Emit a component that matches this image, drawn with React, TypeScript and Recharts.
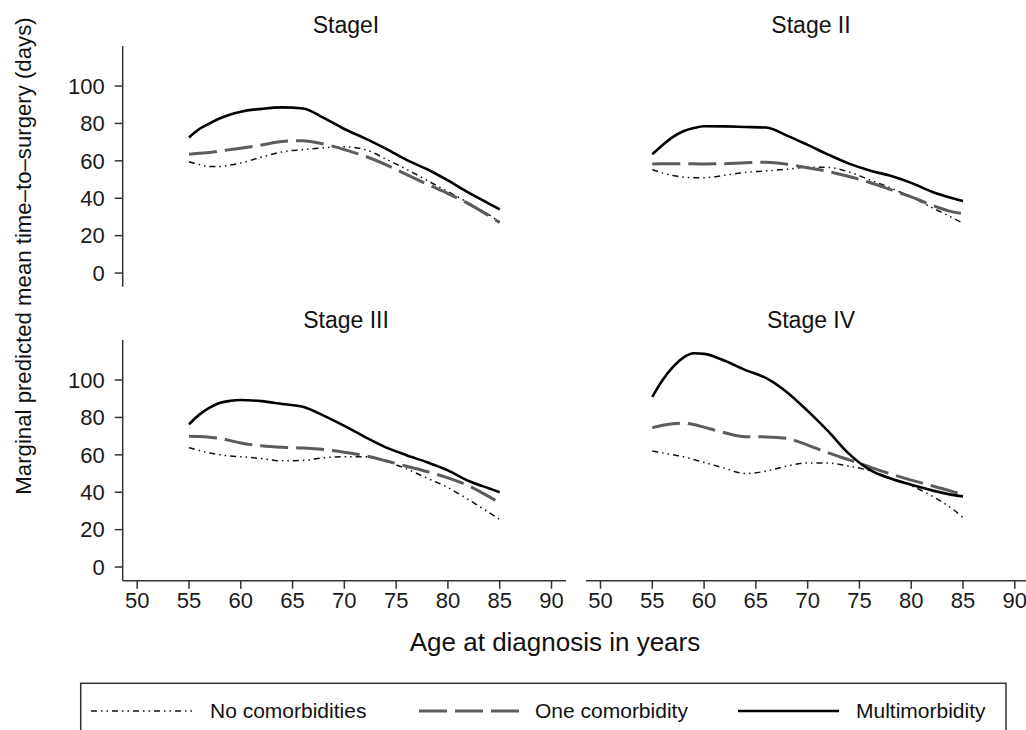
import React from "react";
import { LineChart, Line, XAxis, YAxis } from "recharts";

// age at diagnosis (years)
const ages = [55, 56, 57, 58, 59, 60, 62, 64, 66, 68, 70, 72, 74, 76, 78, 80, 82, 84, 85];

// Stage I
const noStage1 = [59.5, 58, 57, 57, 57.8, 58.8, 62, 64.8, 66, 67, 67.5, 66, 61, 55.5, 49.5, 43.5, 37.5, 31, 27.5];
const oneStage1 = [63.5, 64, 64.5, 65.2, 66, 66.7, 68.5, 70.3, 70.8, 69, 66, 62.5, 58, 52.7, 47.5, 42.5, 37, 30.5, 27];
const multiStage1 = [72.5, 77, 80, 82.8, 84.8, 86.3, 87.8, 88.6, 88, 83, 77, 72, 66.5, 60.5, 55.5, 49.5, 43, 37, 34];

// Stage II
const noStage2 = [55.4, 53.5, 52.2, 51.3, 51, 51, 52.3, 53.8, 54.6, 55.5, 56.6, 56.5, 54, 49.8, 45.5, 40.6, 35, 29.5, 26.6];
const oneStage2 = [58.3, 58.4, 58.4, 58.4, 58.4, 58.3, 58.5, 59, 59.2, 58.2, 56.3, 54.3, 51.6, 48.4, 44.6, 40.7, 36.3, 32.7, 31.9];
const multiStage2 = [63.5, 68.5, 72.8, 75.8, 77.5, 78.5, 78.4, 78.1, 77.8, 73.5, 68.5, 63.3, 58.5, 54.8, 52, 48.2, 43.5, 40, 38.5];

// Stage III
const noStage3 = [63.8, 62.3, 61, 60, 59.4, 59, 58, 56.8, 57, 58.4, 59, 59, 56.5, 52.5, 47.5, 42.5, 36, 29, 25.4];
const oneStage3 = [70, 69.8, 69.4, 68.8, 67.6, 66.3, 64.8, 64, 63.6, 62.8, 61.4, 59.5, 56.8, 53.9, 51, 47.7, 43.5, 37.5, 34.3];
const multiStage3 = [76.3, 81.5, 85.2, 87.8, 88.9, 89.3, 88.7, 87.2, 85.7, 81, 75.5, 69.5, 64, 59.8, 56, 51.7, 46, 42, 40];

// Stage IV
const noStage4 = [62, 61, 60, 59, 57.5, 56, 52.8, 50, 51.3, 54, 55.7, 55.6, 54, 51.5, 47.6, 43.5, 38, 31, 26.5];
const oneStage4 = [74.5, 75.8, 76.6, 77, 76.2, 74.8, 71.8, 69.7, 69.6, 68.8, 65.2, 61, 57.3, 53.5, 49.8, 46.5, 43.5, 40.3, 38.8];
const multiStage4 = [91, 100, 107, 112, 114.3, 114, 110.3, 105.3, 101, 93.5, 83.5, 72.5, 60.5, 52, 47.3, 44, 41, 38.6, 37.8];

const stageTitles = ["StageI", "Stage II", "Stage III", "Stage IV"];
const seriesNames = ["No comorbidities", "One comorbidity", "Multimorbidity"];
const xTicks = [50, 55, 60, 65, 70, 75, 80, 85, 90];
const yTicks = [0, 20, 40, 60, 80, 100];

const FONT = "'Liberation Sans', Arial, Helvetica, sans-serif";
const AXIS = "#333";

const styles = {
  no: { stroke: "#111", width: 1.5, dash: "6 4 1.5 4 1.5 4" },
  one: { stroke: "#5c5c5c", width: 3, dash: "28 8" },
  multi: { stroke: "#000", width: 2.6, dash: undefined as string | undefined },
};

function rows(no: number[], one: number[], multi: number[]) {
  return ages.map((age, i) => ({ age, no: no[i], one: one[i], multi: multi[i] }));
}

const panels = [
  { data: rows(noStage1, oneStage1, multiStage1), left: 0, top: 0, showX: false, showY: true },
  { data: rows(noStage2, oneStage2, multiStage2), left: 586, top: 0, showX: false, showY: false },
  { data: rows(noStage3, oneStage3, multiStage3), left: 0, top: 300, showX: true, showY: true },
  { data: rows(noStage4, oneStage4, multiStage4), left: 586, top: 300, showX: true, showY: false },
];

function Panel({ p }: { p: (typeof panels)[number] }) {
  const yW = p.showY ? 122.7 : 0;
  const plotW = 443.3;
  const width = p.showY ? 580 : 450;
  const height = p.showX ? 330 : 300;
  const marginTop = p.showX ? 40 : 46;
  const marginBottom = p.showX ? 9.3 : 13.3;
  return (
    <div style={{ position: "absolute", left: p.left, top: p.top }}>
      <LineChart
        width={width}
        height={height}
        data={p.data}
        margin={{ top: marginTop, bottom: marginBottom, left: 0, right: width - yW - plotW }}
      >
        <XAxis
          dataKey="age"
          type="number"
          domain={[48.6, 91.4]}
          allowDataOverflow
          ticks={xTicks}
          hide={!p.showX}
          height={40}
          tickSize={8}
          tickMargin={4}
          stroke={AXIS}
          strokeWidth={1.5}
          tick={{ fontSize: 22, fill: "#1a1a1a", fontFamily: FONT }}
        />
        <YAxis
          type="number"
          domain={[-7.3, 121.4]}
          allowDataOverflow
          ticks={yTicks}
          hide={!p.showY}
          width={yW}
          tickSize={8}
          tickMargin={10}
          stroke={AXIS}
          strokeWidth={1.5}
          tick={{ fontSize: 22, fill: "#1a1a1a", fontFamily: FONT }}
        />
        {(["no", "one", "multi"] as const).map((k) => (
          <Line
            key={k}
            dataKey={k}
            type="monotone"
            dot={false}
            activeDot={false}
            stroke={styles[k].stroke}
            strokeWidth={styles[k].width}
            strokeDasharray={styles[k].dash}
            isAnimationActive={false}
          />
        ))}
      </LineChart>
    </div>
  );
}

export default function App() {
  const titlePos = [
    { x: 346, y: 33 },
    { x: 811, y: 33 },
    { x: 346, y: 328 },
    { x: 811, y: 328 },
  ];
  const legendItems = [
    { key: "no" as const, x1: 91, x2: 192, tx: 210 },
    { key: "one" as const, x1: 419, x2: 520, tx: 535 },
    { key: "multi" as const, x1: 738, x2: 839, tx: 856 },
  ];
  return (
    <div
      style={{
        position: "absolute",
        left: 0,
        top: 0,
        width: 1026,
        height: 730,
        overflow: "hidden",
        background: "#fff",
        fontFamily: FONT,
      }}
    >
      {panels.map((p, i) => (
        <Panel key={i} p={p} />
      ))}
      <svg
        width={1026}
        height={730}
        style={{ position: "absolute", left: 0, top: 0, pointerEvents: "none" }}
        fontFamily={FONT}
      >
        {stageTitles.map((t, i) => (
          <text key={t} x={titlePos[i].x} y={titlePos[i].y} textAnchor="middle" fontSize={23} fill="#111">
            {t}
          </text>
        ))}
        <text x={555} y={651} textAnchor="middle" fontSize={26} fill="#111">
          Age at diagnosis in years
        </text>
        <text
          x={0}
          y={0}
          transform="translate(31,256) rotate(-90)"
          textAnchor="middle"
          fontSize={22.2}
          fill="#111"
        >
          Marginal predicted mean time–to–surgery (days)
        </text>
        <rect x={80.7} y={683.3} width={925.3} height={70} fill="none" stroke={AXIS} strokeWidth={1.5} />
        {legendItems.map((it, i) => (
          <g key={it.key}>
            <line
              x1={it.x1}
              x2={it.x2}
              y1={711}
              y2={711}
              stroke={styles[it.key].stroke}
              strokeWidth={styles[it.key].width}
              strokeDasharray={styles[it.key].dash}
            />
            <text x={it.tx} y={717.5} fontSize={21} fill="#111">
              {seriesNames[i]}
            </text>
          </g>
        ))}
      </svg>
    </div>
  );
}
